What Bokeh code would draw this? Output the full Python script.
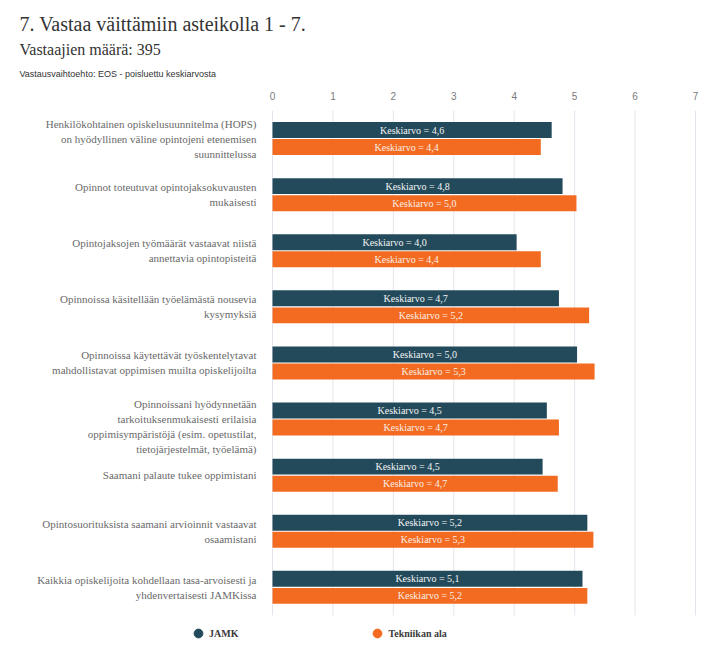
from bokeh.plotting import figure
from bokeh.models import ColumnDataSource, Range1d, FixedTicker, Legend, LegendItem, Title, LabelSet
from bokeh.transform import dodge
from bokeh.core.properties import value
from bokeh.embed import file_html
from bokeh.resources import INLINE

title = "7. Vastaa väittämiin asteikolla 1 - 7."
subtitle = "Vastaajien määrä: 395"
note = "Vastausvaihtoehto: EOS - poisluettu keskiarvosta"

categories = [
    "Henkilökohtainen opiskelusuunnitelma (HOPS)\non hyödyllinen väline opintojeni etenemisen\nsuunnittelussa",
    "Opinnot toteutuvat opintojaksokuvausten\nmukaisesti",
    "Opintojaksojen työmäärät vastaavat niistä\nannettavia opintopisteitä",
    "Opinnoissa käsitellään työelämästä nousevia\nkysymyksiä",
    "Opinnoissa käytettävät työskentelytavat\nmahdollistavat oppimisen muilta opiskelijoilta",
    "Opinnoissani hyödynnetään\ntarkoituksenmukaisesti erilaisia\noppimisympäristöjä (esim. opetustilat,\ntietojärjestelmät, työelämä)",
    "Saamani palaute tukee oppimistani",
    "Opintosuorituksista saamani arvioinnit vastaavat\nosaamistani",
    "Kaikkia opiskelijoita kohdellaan tasa-arvoisesti ja\nyhdenvertaisesti JAMKissa",
]
series_names = ["JAMK", "Tekniikan ala"]
jamk = [4.62, 4.80, 4.04, 4.74, 5.04, 4.54, 4.47, 5.21, 5.13]
tekniikka = [4.44, 5.03, 4.44, 5.24, 5.33, 4.74, 4.72, 5.31, 5.21]
x_ticks = [0, 1, 2, 3, 4, 5, 6, 7]

DARK = "#234a5b"
ORANGE = "#f26b21"
SERIF = "Liberation Serif"
SANS = "Liberation Sans"

# ---- layout (pixels) ----
W, H = 724, 650
TOP = 110                 # top of the plotting band
X0_PX, X7_PX = 272, 695   # where 0 and 7 sit on the value axis
GROUP_PX = 56.1           # height of one category band
LINE_PX = 15              # line spacing of the category labels
n = len(categories)
px_per_unit = (X7_PX - X0_PX) / 7.0
band_bottom = n - 0.5
extra_units = (H - TOP - n * GROUP_PX) / GROUP_PX
label_shift = {5: 7.5}    # the tall 4-line label sits a little lower, as in the original


def fmt(v):
    return "Keskiarvo = " + f"{v:.1f}".replace(".", ",")


source = ColumnDataSource(dict(
    pos=list(range(n)),
    jamk=jamk,
    tek=tekniikka,
    jamk_mid=[v / 2 for v in jamk],
    tek_mid=[v / 2 for v in tekniikka],
    jamk_lbl=[fmt(v) for v in jamk],
    tek_lbl=[fmt(v) for v in tekniikka],
))

# one row per label line so every line is right-aligned
line_pos, line_txt, line_off = [], [], []
for i, c in enumerate(categories):
    lines = c.split("\n")
    k = len(lines)
    for j, t in enumerate(lines):
        line_pos.append(i)
        line_txt.append(t)
        line_off.append(((k - 1) / 2 - j) * LINE_PX - label_shift.get(i, 0))
line_source = ColumnDataSource(dict(pos=line_pos, text=line_txt, yoff=line_off))

p = figure(
    width=W, height=H,
    x_range=Range1d(-X0_PX / px_per_unit, (W - X0_PX) / px_per_unit),
    y_range=Range1d(band_bottom + extra_units, -0.5),
    x_axis_location="above",
    output_backend="svg", toolbar_location=None,
    min_border_left=0, min_border_right=0, min_border_top=TOP, min_border_bottom=0,
)
p.outline_line_color = None
p.background_fill_color = "white"
p.border_fill_color = "white"
p.yaxis.visible = False
p.grid.visible = False

p.xaxis.ticker = FixedTicker(ticks=x_ticks)
p.xaxis.axis_line_color = None
p.xaxis.major_tick_line_color = None
p.xaxis.minor_tick_line_color = None
p.xaxis.major_label_text_font = SANS
p.xaxis.major_label_text_font_size = "10px"
p.xaxis.major_label_text_color = "#7a7a7a"
p.xaxis.major_label_standoff = 5

# vertical grid lines across the category bands
p.segment(x0=x_ticks, x1=x_ticks, y0=-0.5, y1=band_bottom, line_color="#e4e4ec", line_width=1)

off = 0.152
bh = 0.285
p.hbar(y=dodge("pos", -off), left=0, right="jamk", height=bh,
       source=source, fill_color=DARK, line_color=None)
p.hbar(y=dodge("pos", off), left=0, right="tek", height=bh,
       source=source, fill_color=ORANGE, line_color=None)

p.text(x="jamk_mid", y=dodge("pos", -off), text="jamk_lbl", source=source,
       text_align="center", text_baseline="middle", text_color="#f4f4f4",
       text_font=value(SERIF), text_font_size="10px")
p.text(x="tek_mid", y=dodge("pos", off), text="tek_lbl", source=source,
       text_align="center", text_baseline="middle", text_color="#fbeee6",
       text_font=value(SERIF), text_font_size="10px")

p.add_layout(LabelSet(x=0, y="pos", text="text", source=line_source,
                      x_offset=-16, y_offset="yoff",
                      text_align="right", text_baseline="middle",
                      text_font=SERIF, text_font_size="11px", text_color="#6a6a6a"))

# titles stacked above the top axis (first added is nearest the axis)
p.add_layout(Title(text=note, align="left", offset=19, standoff=19,
                   text_font=SANS, text_font_size="9px", text_font_style="normal",
                   text_color="#333333"), "above")
p.add_layout(Title(text=subtitle, align="left", offset=19, standoff=0,
                   text_font=SERIF, text_font_size="16px", text_font_style="normal",
                   text_color="#333333"), "above")
p.add_layout(Title(text=title, align="left", offset=19, standoff=8,
                   text_font=SERIF, text_font_size="20px", text_font_style="normal",
                   text_color="#333333"), "above")

nan = float("nan")
s1 = p.scatter(x=[nan], y=[nan], marker="circle", fill_color=DARK, line_color=DARK)
s2 = p.scatter(x=[nan], y=[nan], marker="circle", fill_color=ORANGE, line_color=ORANGE)
legend = Legend(items=[LegendItem(label=series_names[0], renderers=[s1]),
                       LegendItem(label=series_names[1], renderers=[s2])],
                orientation="horizontal", location=(187, 6),
                glyph_width=22, glyph_height=22, label_height=22, label_standoff=0,
                spacing=128, padding=0, margin=0,
                border_line_color=None, background_fill_alpha=0,
                label_text_font=SERIF, label_text_font_size="10px",
                label_text_font_style="bold", label_text_color="#3a3a3a")
p.add_layout(legend)

open("out.html", "w").write(file_html(p, INLINE))
